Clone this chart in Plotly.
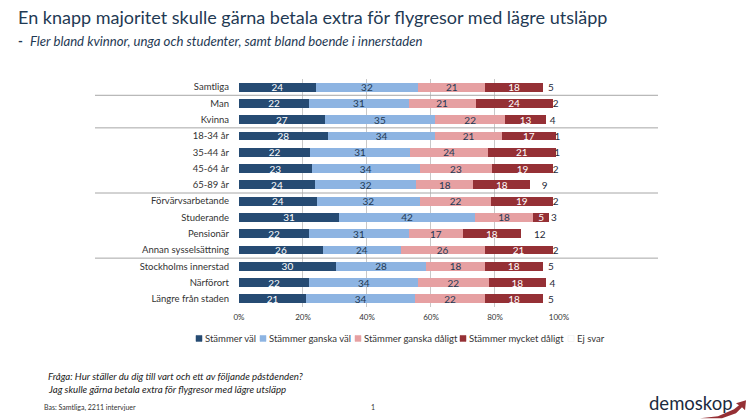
import plotly.graph_objects as go

categories = ["Samtliga","Man","Kvinna","18-34 år","35-44 år","45-64 år","65-89 år","Förvärvsarbetande","Studerande","Pensionär","Annan sysselsättning","Stockholms innerstad","Närförort","Längre från staden"]
val_v = [24,22,27,28,22,23,24,24,31,22,26,30,22,21]
gan_v = [32,31,35,34,31,34,32,32,42,31,24,28,34,34]
gan_d = [21,21,22,21,24,23,18,22,18,17,26,18,22,22]
myc_d = [18,24,13,17,21,19,18,19,5,18,21,18,18,18]
ej = [5,2,4,1,1,2,9,2,3,12,2,5,4,5]
series_names = ["Stämmer väl","Stämmer ganska väl","Stämmer ganska dåligt","Stämmer mycket dåligt","Ej svar"]
series_vals = [val_v,gan_v,gan_d,myc_d,ej]
colors = ["#264b73","#8db4e2","#e6a0a2","#953035","#ffffff"]
txtcol = ["#ffffff","#1f3a54","#1f3a54","#ffffff","#1f2a38"]
legend_sq_x = [199,263,358,463,571]
FONT = "Lato, Open Sans, sans-serif"
L,R,T,B = 239,559,79.15,307.5

fig = go.Figure()
for n,v,c,t in zip(series_names,series_vals,colors,txtcol):
    fig.add_trace(go.Bar(y=categories,x=v,name=n,orientation="h",marker=dict(color=c,line=dict(width=0)),
        text=[str(i) for i in v],textposition="inside",insidetextanchor="middle",constraintext="none",
        textangle=0,textfont=dict(color=t,size=10,family=FONT),cliponaxis=False,showlegend=False))

fig.update_layout(barmode="stack",barnorm="percent",bargap=0.45,width=746,height=419,autosize=False,
    margin=dict(l=L,r=746-R,t=T,b=419-B,pad=0),paper_bgcolor="white",plot_bgcolor="white",
    font=dict(family=FONT,size=9,color="#333333"),
    xaxis=dict(range=[0,100.01],tickvals=[0,20,40,60,80,100],ticktext=["0%","20%","40%","60%","80%","100%"],
        showgrid=True,gridcolor="#c8c8c8",gridwidth=1,zeroline=False,showline=False,ticks="",
        tickfont=dict(size=8,color="#333333"),ticklabelstandoff=4),
    yaxis=dict(autorange="reversed",ticks="",showline=False,tickfont=dict(size=9.5,color="#333333"),ticklabelstandoff=9),
    showlegend=False)

def px(x): return (x-L)/(R-L)
def py(y): return 1-(y-T)/(B-T)
for cat_idx in [0.5,2.5,6.5,10.5]:
    fig.add_shape(type="line",xref="paper",x0=px(95),x1=px(658),yref="y",y0=cat_idx,y1=cat_idx,line=dict(color="#a6a6a6",width=1),layer="above")

def note(x,y,t,size,color="#1f3a54",anchor="left"):
    fig.add_annotation(xref="paper",yref="paper",x=px(x),y=py(y),text=t,showarrow=False,xshift=0,borderpad=0,
        xanchor=anchor,yanchor="middle",font=dict(size=size,color=color,family=FONT),align="left")
note(17,17,"En knapp majoritet skulle gärna betala extra för flygresor med lägre utsläpp",18)
note(17,41,"<b>-</b>",13)
note(29,41,"<i>Fler bland kvinnor, unga och studenter, samt bland boende i innerstaden</i>",13.2)
note(47,377,"<i>Fråga: Hur ställer du dig till vart och ett av följande påståenden?</i>",9.7,"#222222")
note(47,390,"<i>Jag skulle gärna betala extra för flygresor med lägre utsläpp</i>",9.7,"#222222")
note(43,408,"Bas: Samtliga, 2211 intervjuer",7,"#333333")
note(373,408,"1",7,"#333333",anchor="center")
note(648,404,"demoskop",18.5,"#1b2a40")

for name,c,xs in zip(series_names,colors,legend_sq_x):
    fig.add_shape(type="rect",xref="paper",yref="paper",x0=px(xs-3),x1=px(xs+3),y0=py(342),y1=py(336),
        fillcolor=c,line=dict(color="#e6e6e6" if c=="#ffffff" else c,width=0.5))
    note(xs+5,339,name,9.5,"#333333")

# logo swoosh
a=[(700,419),(718,417),(734,410),(739,406),(736,404),(746,401),(745,411),(742,408),(736,414),(722,419)]
fig.add_shape(type="path",xref="paper",yref="paper",
    path="M "+" L ".join(f"{px(x):.4f},{py(y):.4f}" for x,y in a)+" Z",fillcolor="#953035",line=dict(width=0))

fig.write_html("out.html",config={"displayModeBar":False},
    post_script="document.body.style.margin='0';document.documentElement.style.overflow='hidden';")
